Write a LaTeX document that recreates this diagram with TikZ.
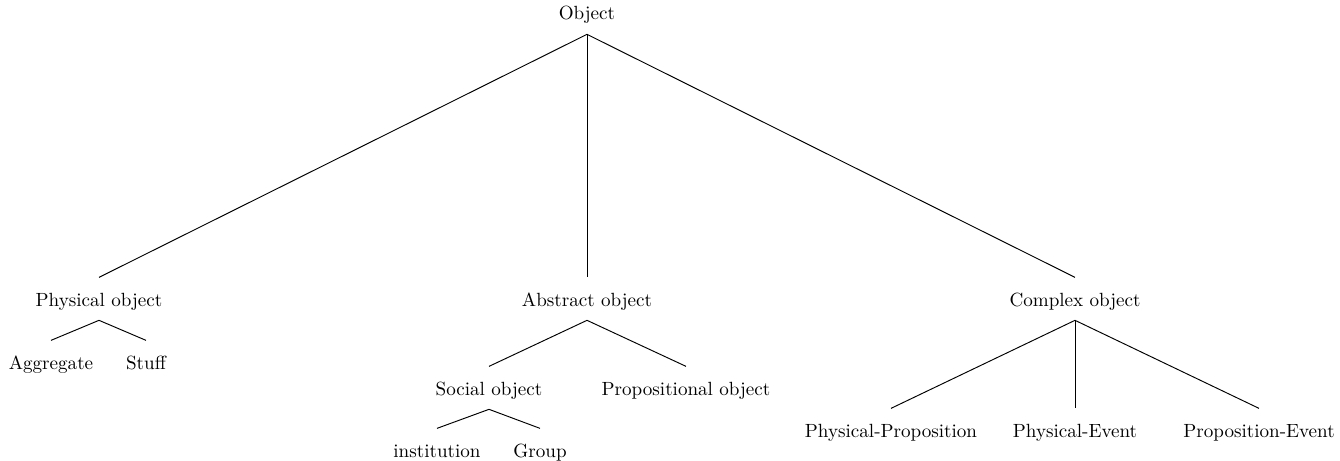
\documentclass[tikz,border=0pt]{standalone}
\usetikzlibrary{calc}
\begin{document}
\begin{tikzpicture}[x=0.5237pt,y=-0.5237pt,
  label/.style={inner sep=0pt,anchor=base,font=\fontsize{10}{12}\selectfont},
  branch/.style={line width=0.5pt}]
\useasboundingbox (0,0) rectangle (1340,460);
% tree labels, placed by their baselines
\node[label] (obj)  at (587,20)   {Object};
\node[label] (phys) at (99,306)   {Physical object};
\node[label] (abs)  at (587,306)  {Abstract object};
\node[label] (cplx) at (1075,306) {Complex object};
\node[label] (agg)  at (51,369)   {Aggregate};
\node[label] (stuff) at (146,369) {Stuff};
\node[label] (soc)  at (489,395)  {Social object};
\node[label] (prop) at (686,395)  {Propositional object};
\node[label] (inst) at (437,457)  {institution};
\node[label] (grp)  at (540,457)  {Group};
\node[label] (pp)   at (891,437)  {Physical-Proposition};
\node[label] (pe)   at (1075,437) {Physical-Event};
\node[label] (pre)  at (1259,437) {Proposition-Event};
% branches: from below the parent's baseline to above the child's
\newcommand\treebranch[2]{%
  \draw[branch] ($(#1.base)+(0,-7.5pt)$) -- ($(#2.base)+(0,15pt)$);}
\treebranch{obj}{phys}
\treebranch{obj}{abs}
\treebranch{obj}{cplx}
\treebranch{phys}{agg}
\treebranch{phys}{stuff}
\treebranch{abs}{soc}
\treebranch{abs}{prop}
\treebranch{soc}{inst}
\treebranch{soc}{grp}
\treebranch{cplx}{pp}
\treebranch{cplx}{pe}
\treebranch{cplx}{pre}
\end{tikzpicture}
\end{document}
